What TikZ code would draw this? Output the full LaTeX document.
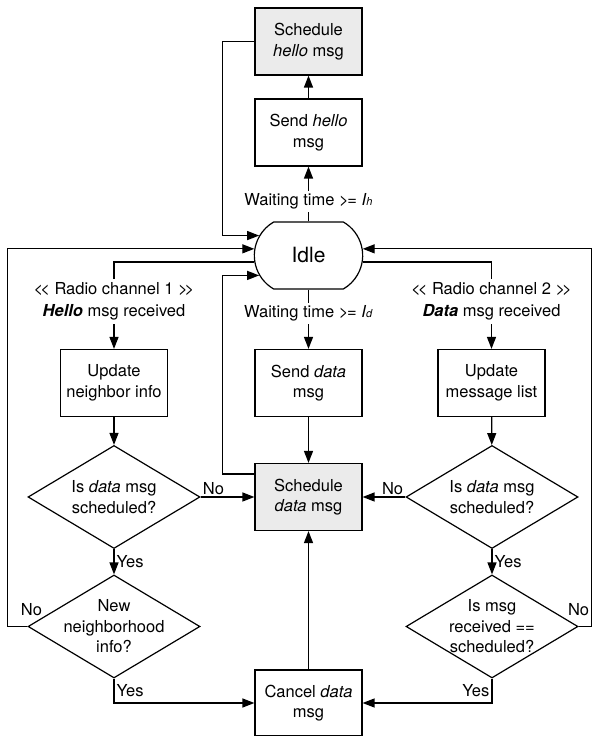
\documentclass[tikz,border=0pt]{standalone}
\usepackage{fontspec}
\setmainfont{TeX Gyre Heros}
\usetikzlibrary{arrows.meta,shapes.geometric,shapes.misc}

\begin{document}
\begin{tikzpicture}[x=1pt, y=1pt, font=\fontsize{16.5}{20.5}\selectfont,
  box/.style={draw, line width=1.2pt, minimum width=107, minimum height=67, align=center, inner sep=2pt},
  graybox/.style={box, fill=black!8},
  ask/.style={draw, line width=1.2pt, shape=diamond, aspect=1.64, minimum width=172, minimum height=103,
    inner xsep=-5pt, inner ysep=-4pt, align=center},
  idlebox/.style={draw, line width=1.2pt, shape=rounded rectangle, rounded rectangle arc length=120,
    minimum width=115, minimum height=67, font=\fontsize{21}{24}\selectfont},
  flow/.style={line width=1.3pt, -{Triangle[length=12pt,width=9pt]}},
  tag/.style={inner sep=2pt},
  cut/.style={fill=white, inner sep=3pt, align=center}]
  \useasboundingbox (0,0) rectangle (592,736);

  %% hello branch
  \node[graybox] (hellosched) at (308.5,694.5) {Schedule\\\textit{hello} msg};
  \node[box] (hellosend) at (308.5,603.5) {Send \textit{hello}\\msg};
  \node[idlebox] (idle) at (308.5,480.5) {Idle};

  %% second row
  \node[box] (upnbr) at (114,353) {Update\\neighbor info};
  \node[box] (senddata) at (308.5,353) {Send \textit{data}\\msg};
  \node[box] (upmsg) at (491.5,353) {Update\\message list};

  %% checks
  \node[ask] (chk1) at (114,239) {Is \textit{data} msg\\scheduled?};
  \node[graybox] (schdata) at (308.5,239) {Schedule\\\textit{data} msg};
  \node[ask] (chk2) at (492,239) {Is \textit{data} msg\\scheduled?};
  \node[ask] (nbrnew) at (114,109.5) {New\\neighborhood\\info?};
  \node[ask] (same) at (492,109.5) {Is msg\\received ==\\scheduled?};
  \node[box, minimum height=66] (cancel) at (308.5,33) {Cancel \textit{data}\\msg};

  %% idle loops
  \draw[flow] (idle.north) -- node[cut, pos=0.36]
    {Waiting time >\kern-1.5pt= \textit{I}{\fontsize{11}{11}\selectfont\textit{h}}} (hellosend.south);
  \draw[flow] (hellosend) -- (hellosched);
  \draw[flow] (hellosched.west) -- ++(-32,0) |- (idle.158);
  \draw[flow] (idle.south) -- node[cut, pos=0.4]
    {Waiting time >\kern-1.5pt= \textit{I}{\fontsize{11}{11}\selectfont\textit{d}}} (senddata.north);
  \draw[flow] (idle.187) -| node[cut, pos=0.727]
    {<\kern-3pt< Radio channel 1 >\kern-3pt>\\[2pt]\textbf{\textit{Hello}} msg received} (upnbr.north);
  \draw[flow] (idle.-7) -| node[cut, pos=0.727]
    {<\kern-3pt< Radio channel 2 >\kern-3pt>\\[2pt]\textbf{\textit{Data}} msg received} (upmsg.north);

  %% left side
  \draw[flow] (upnbr) -- (chk1);
  \draw[flow] (chk1.east) -- node[tag, above, pos=0.24] {No} (schdata.west);
  \draw[flow] (chk1.south) -- node[tag, right] {Yes} (nbrnew.north);
  \draw[flow] (nbrnew.west) node[above=7pt, xshift=4pt] {No} -- ++(-20,0) |- (idle.173);
  \draw[flow] (nbrnew.south) |- node[tag, pos=0.25, right] {Yes} (cancel.west);

  %% middle
  \draw[flow] (senddata) -- (schdata);
  \draw[flow] (cancel) -- (schdata);
  \draw[flow] ([yshift=-11pt]schdata.north west) -- ++(-32,0) |- (idle.202);

  %% right side
  \draw[flow] (upmsg) -- (chk2);
  \draw[flow] (chk2.west) -- node[tag, above, pos=0.3] {No} (schdata.east);
  \draw[flow] (chk2.south) -- node[tag, right] {Yes} (same.north);
  \draw[flow] (same.east) node[above=7pt] {No} -- ++(13,0) |- (idle.7);
  \draw[flow] (same.south) |- node[tag, pos=0.25, left] {Yes} (cancel.east);

\end{tikzpicture}
\end{document}
